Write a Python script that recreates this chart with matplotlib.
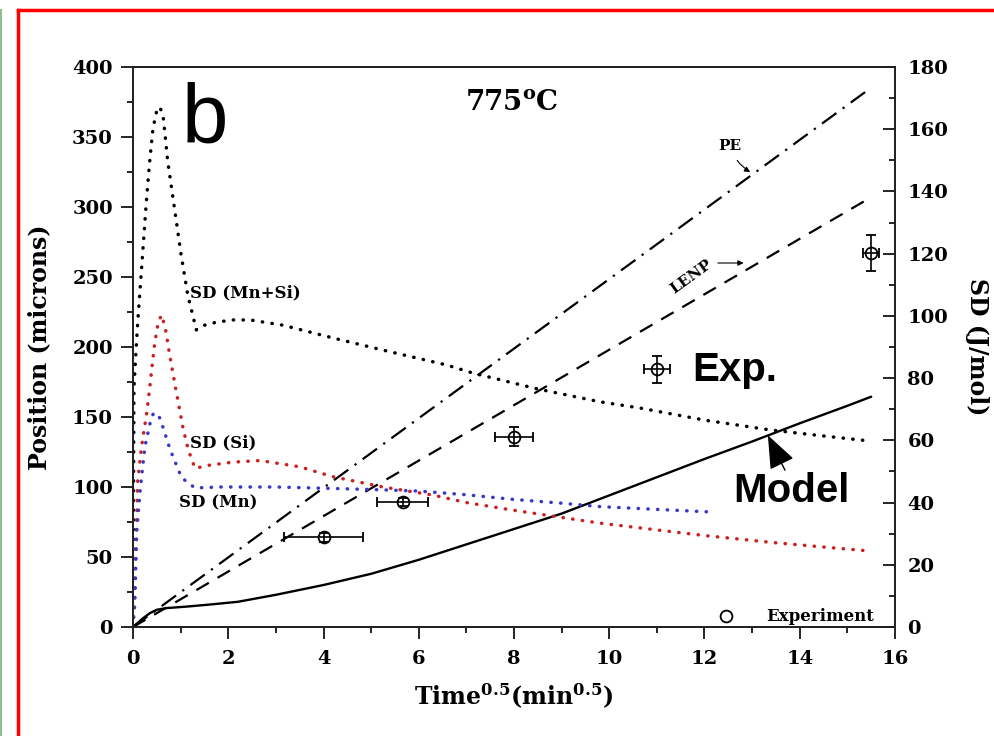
import matplotlib
matplotlib.use("Agg")
import matplotlib.pyplot as plt
from matplotlib.lines import Line2D
from matplotlib.ticker import MultipleLocator

plt.rcParams['font.family'] = ['DejaVu Serif']
plt.rcParams['font.weight'] = 'bold'
plt.rcParams['mathtext.fontset'] = 'dejavuserif'

# ---------------- data ----------------
# Model (position, microns) vs sqrt(time)
model_t = [0, 0.1, 0.2, 0.36, 0.5, 0.7, 1.1, 1.6, 2.2, 3, 4, 5, 6, 7, 8, 9, 10, 11, 12, 13, 14, 15, 15.5]
model_pos = [0, 3, 6, 10, 12.3, 13.5, 14.5, 16, 18, 23, 30, 38, 48, 59, 70, 81, 94, 107, 120, 132.5, 145.5, 158, 164.5]

# PE and LENP predictions (position, microns)
pe_t = [0, 15.45]
pe_pos = [0, 384]
lenp_t = [0, 15.45]
lenp_pos = [0, 306]

# Driving forces SD (J/mol)
sd_mnsi_t = [0, 0.01, 0.02, 0.05, 0.1, 0.16, 0.22, 0.28, 0.35, 0.42, 0.5, 0.56, 0.63, 0.73, 0.87,
             1.01, 1.15, 1.33, 1.5, 1.76, 2.1, 2.46, 3.15, 4.2, 5.25, 6.59, 7.14, 8.5, 9.8, 10.64,
             12, 13.4, 14.5, 15.4]
sd_mnsi = [0, 40, 76.8, 85.3, 98.1, 111, 123.8, 136.7, 149.6, 160.3, 166, 167.2, 164.6, 149.6, 134.7,
           119.6, 106.7, 95.5, 97, 98, 98.7, 98.7, 97, 92.9, 89, 84.2, 81.6, 76.5, 72.4, 70.4,
           66.5, 63.3, 61.4, 59.9]

sd_si_t = [0, 0.01, 0.03, 0.07, 0.1, 0.18, 0.29, 0.35, 0.45, 0.53, 0.6, 0.68, 0.77, 0.91, 1.05, 1.16,
           1.3, 1.6, 2.1, 2.67, 3.5, 4.2, 5.25, 6.3, 7, 8, 9.8, 11, 12, 13.4, 14.5, 15.5]
sd_si = [0, 3, 5, 31, 47, 58, 69, 76.8, 90.6, 98, 100.3, 96, 87.4, 75.5, 64, 57,
         51, 52, 53, 53.5, 51.5, 48.3, 45, 42.4, 40, 37.5, 33.4, 31.2, 29.4, 27.2, 25.7, 24.4]

sd_mn_t = [0, 0.04, 0.08, 0.15, 0.25, 0.36, 0.43, 0.5, 0.57, 0.78, 1.02, 1.3, 1.83, 3, 4, 5, 6, 7,
           8, 9, 9.8, 11, 12.1]
sd_mn = [0, 10, 31, 44, 58, 65.6, 68.8, 68.5, 67, 57, 48, 44.7, 45, 45, 44.6, 44.2, 43.7, 42.5,
         41, 39.8, 38.7, 37.8, 37]

# Experimental points
exp_t = [4.0, 5.66, 8.0, 11.0, 15.5]
exp_pos = [64, 89.5, 136, 184, 267]
exp_terr = [0.83, 0.54, 0.4, 0.28, 0.17]
exp_perr = [3, 3, 7, 9.6, 13]

# ---------------- figure ----------------
fig = plt.figure(figsize=(9.95, 7.36), dpi=100)
ax = fig.add_axes([133/995, 1 - 627/736, 762/995, 560/736])
ax2 = ax.twinx()

dot = dict(linestyle=(0, (0.1, 2.7)), dash_capstyle='round', linewidth=2.5)

ax.plot(pe_t, pe_pos, color='black', lw=1.6, linestyle=(0, (8, 3.5, 1.0, 3.5)))
ax.plot(lenp_t, lenp_pos, color='black', lw=1.6, linestyle=(0, (6.5, 4.5)))
ax.plot(model_t, model_pos, color='black', lw=1.7, solid_capstyle='round')

ax.errorbar(exp_t, exp_pos, xerr=exp_terr, yerr=exp_perr, fmt='o', mfc='none', mec='black',
            ms=8.5, mew=1.3, ecolor='black', elinewidth=1.2, capsize=3.5, capthick=1.2, zorder=4)

ax2.plot(sd_mnsi_t, sd_mnsi, color='black', **dot)
ax2.plot(sd_si_t, sd_si, color='#cc1f1f', **dot)
ax2.plot(sd_mn_t, sd_mn, color='#3838c8', **dot)

# axes limits and ticks
ax.set_xlim(0, 16)
ax.set_ylim(0, 400)
ax2.set_ylim(0, 180)
ax.xaxis.set_major_locator(MultipleLocator(2))
ax.xaxis.set_minor_locator(MultipleLocator(1))
ax.yaxis.set_major_locator(MultipleLocator(50))
ax.yaxis.set_minor_locator(MultipleLocator(25))
ax2.yaxis.set_major_locator(MultipleLocator(20))
ax2.yaxis.set_minor_locator(MultipleLocator(10))

ax.tick_params(axis='both', which='major', direction='out', length=8.5, width=1.2,
               labelsize=14, pad=6, top=False, right=False)
ax.tick_params(axis='both', which='minor', direction='out', length=4.5, width=1.2,
               top=False, right=False)
ax.tick_params(axis='x', which='major', pad=8)
ax2.tick_params(axis='y', which='major', direction='in', length=8.5, width=1.2,
                labelsize=14, pad=9)
ax2.tick_params(axis='y', which='minor', direction='in', length=4.5, width=1.2)

for a in (ax, ax2):
    for s in a.spines.values():
        s.set_linewidth(1.3)
        s.set_color('#222222')

for lab in ax.get_xticklabels() + ax.get_yticklabels() + ax2.get_yticklabels():
    lab.set_fontweight('bold')

ax.set_xlabel(r'Time$^{\mathbf{0.5}}$(min$^{\mathbf{0.5}}$)', fontsize=17, fontweight='bold', labelpad=10)
ax.set_ylabel('Position (microns)', fontsize=17, fontweight='bold', labelpad=15)
ax2.set_ylabel('SD (J/mol)', fontsize=17, fontweight='bold', rotation=270, labelpad=29)

# annotations
ax.text(1.03, 346, 'b', fontsize=60, fontfamily='Liberation Sans', fontweight='normal',
        ha='left', va='baseline')
ax.text(7.96, 369, r'775$^{\mathbf{o}}$C', fontsize=20, fontweight='bold', ha='center', va='baseline')

ax.text(1.2, 238.6, 'SD (Mn+Si)', fontsize=12, fontweight='bold', ha='left', va='center')
ax.text(1.2, 131.6, 'SD (Si)', fontsize=12, fontweight='bold', ha='left', va='center')
ax.text(0.97, 88.6, 'SD (Mn)', fontsize=12, fontweight='bold', ha='left', va='center')

ax.annotate('PE', xy=(12.96, 325), xytext=(12.54, 343.6), fontsize=11, fontweight='bold',
            ha='center', va='center',
            arrowprops=dict(arrowstyle='-|>', color='black', lw=0.8, mutation_scale=8,
                            shrinkA=4, shrinkB=0, connectionstyle='arc3,rad=0.2'))
ax.text(11.72, 250, 'LENP', fontsize=11, fontweight='bold', ha='center', va='center', rotation=36)
ax.annotate('', xy=(12.82, 260), xytext=(12.28, 260),
            arrowprops=dict(arrowstyle='-|>', color='black', lw=0.8, mutation_scale=8,
                            shrinkA=0, shrinkB=0))

ax2.text(11.75, 183.6, 'Exp.', transform=ax.transData, fontsize=29,
         fontfamily='Liberation Sans', fontweight='bold', ha='left', va='center', zorder=10,
         bbox=dict(facecolor='white', edgecolor='none', pad=6))
ax2.text(12.6, 97, 'Model', transform=ax.transData, fontsize=29,
         fontfamily='Liberation Sans', fontweight='bold', ha='left', va='center', zorder=10,
         bbox=dict(facecolor='white', edgecolor='none', pad=8))
ax2.annotate('', xy=(13.33, 137), xycoords=ax.transData,
             xytext=(13.69, 112), textcoords=ax.transData, zorder=11,
             arrowprops=dict(arrowstyle='-|>,head_length=1.4,head_width=0.55', color='black',
                             lw=1.0, mutation_scale=15, shrinkA=0, shrinkB=0))

legend_handle = Line2D([], [], linestyle='none', marker='o', mfc='none', mec='black', ms=8.5, mew=1.3)
ax2.legend([legend_handle], ['Experiment'], loc='lower right', frameon=False,
           prop=dict(family='DejaVu Serif', weight='bold', size=12),
           handlelength=1.0, handletextpad=1.9, borderaxespad=0.2, bbox_to_anchor=(0.985, -0.015))

# page frame lines
fig.add_artist(Line2D([18/995, 1], [1 - 10/736, 1 - 10/736], transform=fig.transFigure,
                      color='#ff0000', lw=2.5))
fig.add_artist(Line2D([18/995, 18/995], [0, 1 - 10/736], transform=fig.transFigure,
                      color='#ff0000', lw=2.5))
fig.add_artist(Line2D([1/995, 1/995], [0, 1 - 10/736], transform=fig.transFigure,
                      color='#8fbf8f', lw=1.5))

fig.savefig('out.png', dpi=100)
